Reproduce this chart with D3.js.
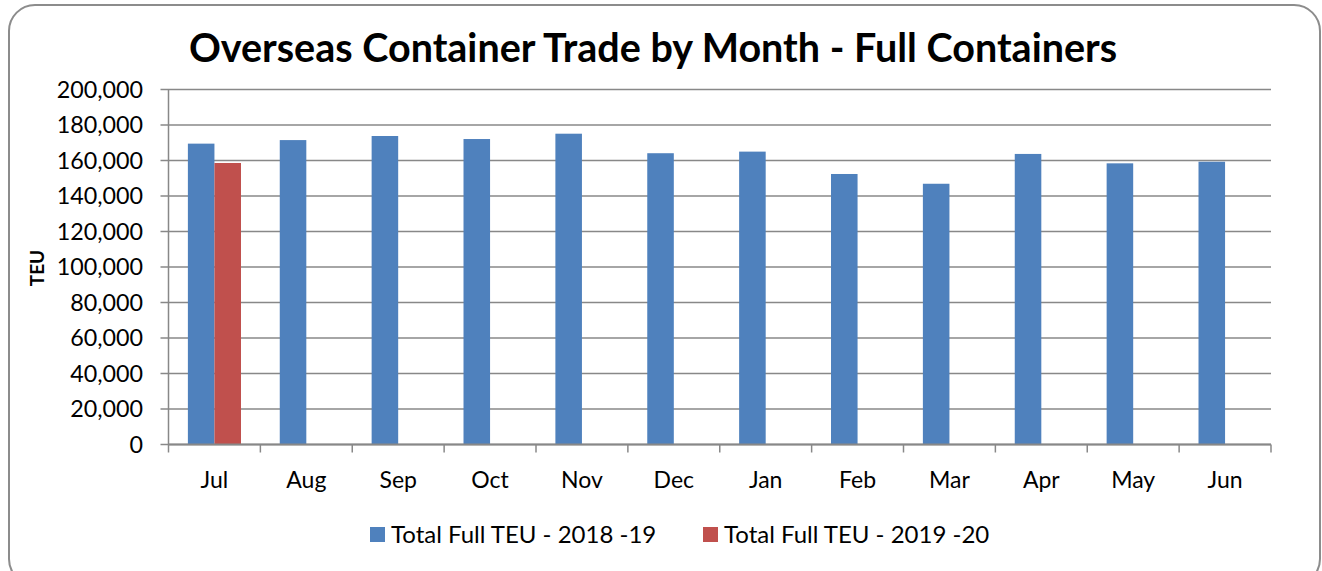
<!DOCTYPE html>
<html>
<head>
<meta charset="utf-8">
<script src="https://cdn.jsdelivr.net/npm/d3@7"></script>
<style>
	body { margin: 0; background: #fff; }
	text { font-family: "Lato", "Open Sans", sans-serif; fill: #000; }
</style>
</head>
<body>
<script>
// data
var months = ["Jul", "Aug", "Sep", "Oct", "Nov", "Dec", "Jan", "Feb", "Mar", "Apr", "May", "Jun"];
var seriesNames = ["Total Full TEU - 2018 -19", "Total Full TEU - 2019 -20"];
var teu1819 = [169500, 171500, 173800, 172100, 175100, 164100, 165000, 152400, 146900, 163700, 158400, 159300];
var teu1920 = [158600, null, null, null, null, null, null, null, null, null, null, null];
var yTicks = [0, 20000, 40000, 60000, 80000, 100000, 120000, 140000, 160000, 180000, 200000];
var colors = ["#4F81BD", "#C0504D"];

var w = 1322;
var h = 571;
var pLeft = 168.5, pRight = 1271, pTop = 89.5, pBottom = 444.5;

var svg = d3.select("body")
	.append("svg")
	.attr("width", w)
	.attr("height", h);

// outer frame
svg.append("rect")
	.attr("x", 9)
	.attr("y", 5)
	.attr("width", 1311)
	.attr("height", 580)
	.attr("rx", 26)
	.attr("fill", "none")
	.attr("stroke", "#8c8c8c")
	.attr("stroke-width", 2);

var x0 = d3.scaleBand()
	.domain(months)
	.range([pLeft, pRight])
	.padding(0);

var x1 = d3.scaleBand()
	.domain(seriesNames)
	.range([0, x0.bandwidth()])
	.paddingInner(0)
	.paddingOuter(0.73);

var y = d3.scaleLinear()
	.domain([0, 200000])
	.range([pBottom, pTop]);

// gridlines (with tick stubs to the left)
svg.append("g")
	.selectAll("line")
	.data(yTicks)
	.enter()
	.append("line")
	.attr("x1", pLeft - 8)
	.attr("x2", pRight)
	.attr("y1", d => y(d))
	.attr("y2", d => y(d))
	.attr("stroke", "#888")
	.attr("stroke-width", 1.5);

// bars
var rows = [];
months.forEach((m, i) => {
	rows.push({ month: m, series: seriesNames[0], value: teu1819[i], c: colors[0] });
	if (teu1920[i] != null) rows.push({ month: m, series: seriesNames[1], value: teu1920[i], c: colors[1] });
});

svg.selectAll("rect.bar")
	.data(rows)
	.enter()
	.append("rect")
	.attr("class", "bar")
	.attr("x", d => x0(d.month) + x1(d.series))
	.attr("y", d => y(d.value))
	.attr("width", x1.bandwidth())
	.attr("height", d => y(0) - y(d.value))
	.attr("fill", d => d.c);

// y axis line
svg.append("line")
	.attr("x1", pLeft).attr("x2", pLeft)
	.attr("y1", pTop).attr("y2", pBottom)
	.attr("stroke", "#888")
	.attr("stroke-width", 1.5);

// x axis with ticks between categories
var xAxis = d3.axisBottom(x0).tickSize(0).tickPadding(27);
var gx = svg.append("g")
	.attr("transform", "translate(0," + pBottom + ")")
	.call(xAxis);
gx.select(".domain").remove();
gx.selectAll("text")
	.attr("font-size", "23px")
	.attr("font-family", "Lato")
	.attr("fill", "#000");

svg.append("line")
	.attr("x1", pLeft).attr("x2", pRight)
	.attr("y1", pBottom).attr("y2", pBottom)
	.attr("stroke", "#888")
	.attr("stroke-width", 2);

svg.append("g")
	.selectAll("line")
	.data(months.map(m => x0(m)).concat([pRight]))
	.enter()
	.append("line")
	.attr("x1", d => d).attr("x2", d => d)
	.attr("y1", pBottom).attr("y2", pBottom + 8)
	.attr("stroke", "#888")
	.attr("stroke-width", 1.5);

// y labels
svg.append("g")
	.selectAll("text")
	.data(yTicks)
	.enter()
	.append("text")
	.text(d => d3.format(",")(d))
	.attr("x", 143)
	.attr("y", d => y(d))
	.attr("dy", "0.35em")
	.attr("text-anchor", "end")
	.attr("font-size", "23.3px");

// title
svg.append("text")
	.text("Overseas Container Trade by Month - Full Containers")
	.attr("x", 653)
	.attr("y", 62)
	.attr("text-anchor", "middle")
	.attr("font-size", "39.5px")
	.attr("font-weight", "bold");

// axis title
svg.append("text")
	.text("TEU")
	.attr("transform", "translate(44,268) rotate(-90)")
	.attr("text-anchor", "middle")
	.attr("font-size", "19px")
	.attr("font-weight", "bold");

// legend
var legend = svg.append("g")
	.selectAll("g")
	.data(seriesNames)
	.enter()
	.append("g")
	.attr("transform", (d, i) => "translate(" + [370, 703][i] + ",527)");

legend.append("rect")
	.attr("width", 15)
	.attr("height", 15)
	.attr("fill", (d, i) => colors[i]);

legend.append("text")
	.text(d => d)
	.attr("x", 21)
	.attr("y", 8)
	.attr("dy", "0.35em")
	.attr("font-size", "24px");
</script>
</body>
</html>
